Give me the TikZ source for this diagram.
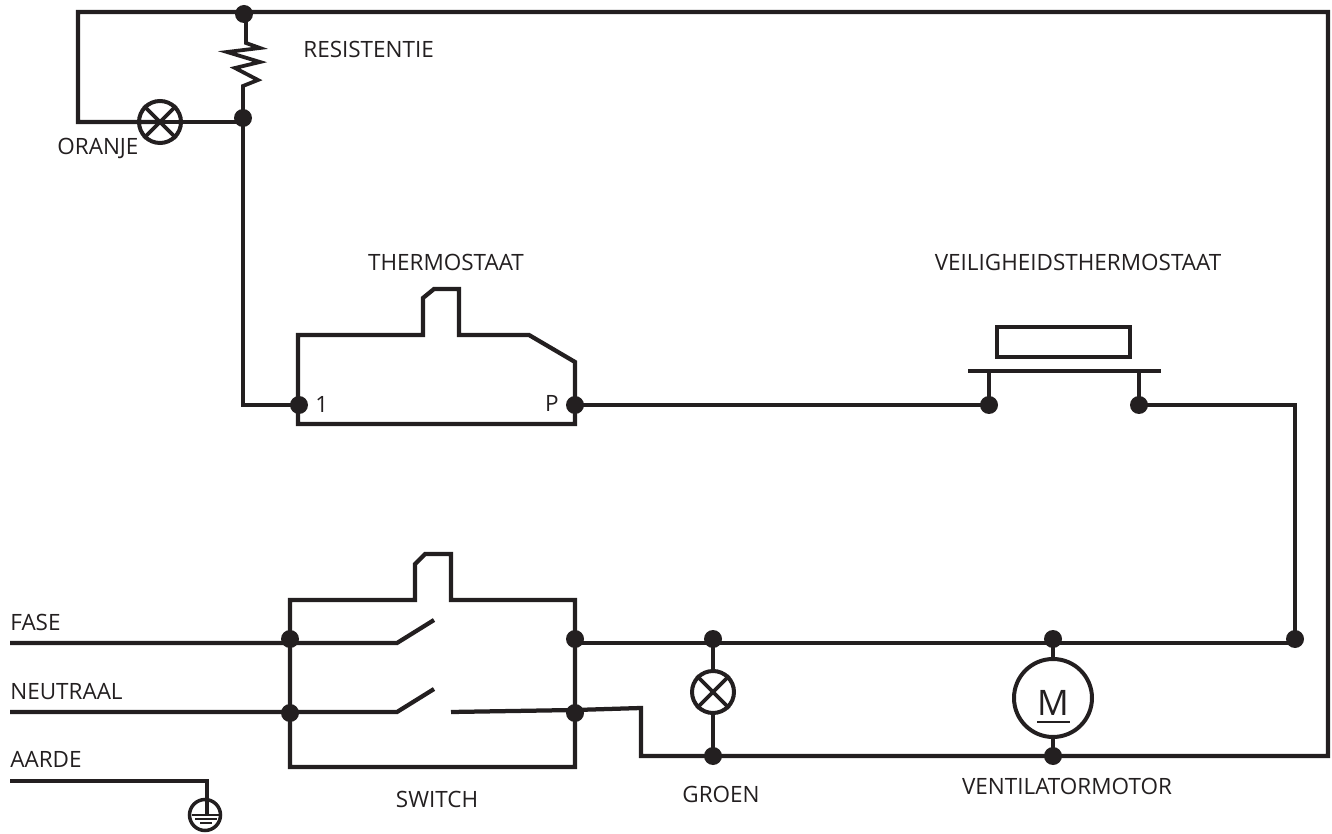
\documentclass[tikz,border=0pt]{standalone}
\usepackage{fontspec}
\setmainfont{Open Sans}
\definecolor{ink}{HTML}{231F20}
\tikzset{
wire/.style={line width=.085cm, color=ink, line join=miter},
thin wire/.style={line width=.075cm, color=ink, line join=miter},
dot/.style={circle, fill=ink, inner sep=0pt, minimum size=.36cm},
lamp/.style={circle, draw=ink, line width=.08cm, inner sep=0pt, minimum size=.84cm},
lbl/.style={inner sep=0pt, text=ink, font=\fontsize{12.8}{15}\selectfont}
}
\begin{document}
\begin{tikzpicture}[x=.02cm, y=-.02cm]
\useasboundingbox (0,0) rectangle (1332,834);
% wire ends
\coordinate (tl) at (78,12);
\coordinate (tr) at (1328,12);
\coordinate (br) at (1328,756);
\coordinate (fase) at (10,643);
\coordinate (neutraal) at (10,712);
\coordinate (aarde) at (10,781);
\coordinate (rtop) at (246,43);
\coordinate (rbot) at (243,86);
\coordinate (swout) at (451,712);
\coordinate (swbend) at (641,708);
\coordinate (swmid) at (575,710);
% junctions
\foreach \n/\x/\y in {jtop/244/14, jmid/243/118, jt1/299/405, jtp/575/405, jv1/989/405, jv2/1139/405,
  js1/290/639, js2/290/713, js3/575/639, js4/575/713, jg1/713/639, jg2/713/756,
  jm1/1053/639, jm2/1053/756, jr/1295/639}
\node[dot] (\n) at (\x,\y) {};
% lamps and motor
\node[lamp] (oranje) at (160,122) {};
\node[lamp] (groen) at (713,692) {};
\node[lamp, minimum size=1.56cm] (motor) at (1053,698) {};
\node[circle, draw=ink, line width=.07cm, inner sep=0pt, minimum size=.62cm] (earth) at (205,815) {};
\foreach \l in {oranje,groen} {
\draw[thin wire] (\l.north west)--(\l.south east);
\draw[thin wire] (\l.north east)--(\l.south west);
}
% top loop
\draw[wire] (jmid.center |- oranje.center) -- (oranje.center);
\draw[wire] (oranje.center) -- (oranje.center -| tl) -- (tl) -- (tr) -- (br) -- (swbend |- br) -- (swbend) -- (swmid) -- (swout);
\draw[thin wire] (rtop |- jtop) -- (rtop) -- ++(14,5) -- ++(-33,4) -- ++(33,10) -- ++(-25,6) -- ++(23,12) -- (rbot) -- (jmid.center);
\draw[wire] (jmid.center) -- (jmid.center |- jt1) -- (jt1.center);
% thermostaat
\draw[wire] (298,335) -- (423,335) -- (423,298) -- (434,289) -- (459,289) -- (459,335) -- (529,335) -- (575,362) -- (575,424) -- (298,424) -- cycle;
\draw[thin wire] (jtp.center) -- (jv1.center);
% veiligheidsthermostaat
\draw[wire] (997,327) rectangle (1130,357);
\draw[wire] (968,371) -- (1161,371);
\draw[thin wire] (jv1 |- 0,371) -- (jv1.center);
\draw[thin wire] (jv2 |- 0,371) -- (jv2.center);
\draw[wire] (jv2.center) -- (jv2 -| jr) -- (jr.center);
% switch
\draw[wire] (290,600) -- (415,600) -- (415,564) -- (425,554) -- (451,554) -- (451,600) -- (575,600) -- (575,767) -- (290,767) -- cycle;
\draw[wire] (fase) -- (397,643) -- (434,620);
\draw[wire] (neutraal) -- (397,712) -- (434,689);
\draw[wire] (js3 |- fase) -- (jr |- fase);
% lamp and motor branches
\draw[wire] (jg1.center) -- (groen);
\draw[wire] (groen) -- (jg2.center);
\draw[wire] (jm1.center) -- (motor);
\draw[wire] (motor) -- (jm2.center);
% earth
\draw[wire] (aarde) -- (207,781) -- (207,815);
\draw[ink, line width=.05cm] (192,815) -- (220,815) (195,819) -- (217,819) (200,823) -- (212,823);
% labels
\node[lbl, anchor=west] (lres) at (303,49) {RESISTENTIE};
\node[lbl, anchor=west] (lora) at (57,148) {ORANJE};
\node[lbl] (lthe) at (446,262) {THERMOSTAAT};
\node[lbl] (lvei) at (1078,262) {VEILIGHEIDSTHERMOSTAAT};
\node[lbl, anchor=west] (lone) at (315,404) {1};
\node[lbl, anchor=east] (lp) at (559,403) {P};
\node[lbl, anchor=west] (lfas) at (10,622) {FASE};
\node[lbl, anchor=west] (lneu) at (10,692) {NEUTRAAL};
\node[lbl, anchor=west] (laar) at (10,759) {AARDE};
\node[lbl] (lswi) at (437,799) {SWITCH};
\node[lbl] (lgro) at (721,794) {GROEN};
\node[lbl] (lven) at (1067,786) {VENTILATORMOTOR};
\node[lbl, font=\fontsize{20}{24}\selectfont] (lm) at (1053,703) {M};
\draw[ink, line width=.04cm] (1037,722) -- (1070,722);
\end{tikzpicture}
\end{document}
